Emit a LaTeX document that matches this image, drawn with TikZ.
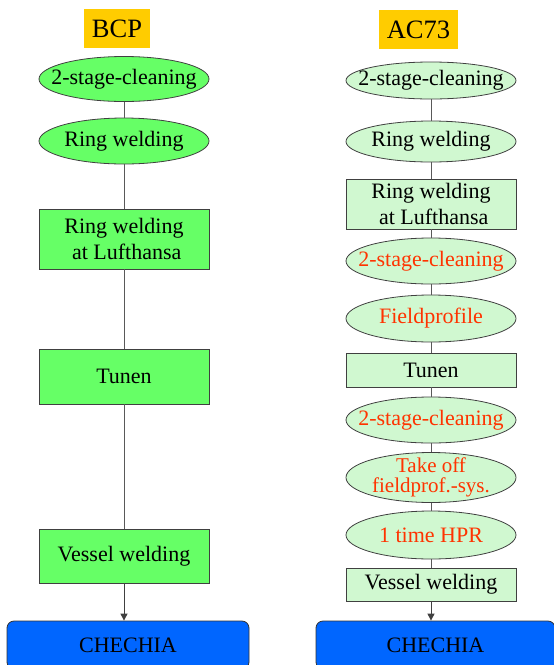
\documentclass[tikz,border=0pt]{standalone}
\usepackage{fontspec}
\setmainfont{Liberation Serif}
\usetikzlibrary{shapes.geometric,arrows.meta}
\definecolor{lgreen}{RGB}{102,255,102}
\definecolor{pgreen}{RGB}{208,248,208}
\definecolor{hdr}{RGB}{255,204,0}
\definecolor{cblue}{RGB}{0,102,255}
\definecolor{rtxt}{RGB}{255,51,0}
\tikzset{
  base/.style={inner sep=0pt, draw=black!75, line width=0.8pt, font=\fontsize{22}{26}\selectfont, align=center},
  hdrbox/.style={rectangle, fill=hdr, inner sep=0pt, font=\fontsize{26.5}{30}\selectfont},
  lell/.style={base, ellipse, fill=lgreen, minimum width=170pt},
  lbox/.style={base, rectangle, fill=lgreen, minimum width=170pt},
  rell/.style={base, ellipse, fill=pgreen, minimum width=170pt},
  rbox/.style={base, rectangle, fill=pgreen, minimum width=170pt},
  etext/.style={inner sep=0pt, font=\fontsize{22}{26}\selectfont, align=center},
  redt/.style={etext, text=rtxt},
  endbox/.style={base, rectangle, rounded corners=7pt, fill=cblue, draw=black!80},
  conn/.style={draw=black!65, line width=1pt},
  arr/.style={conn, -{Triangle[width=7pt,length=7pt]}, draw=black!75}
}
\begin{document}
\begin{tikzpicture}[x=1pt,y=-1pt]
\useasboundingbox (0,0) rectangle (554,665);
% headers
\node[hdrbox, minimum width=66pt, minimum height=39pt] (bcp) at (117,28.5) {BCP};
\node[hdrbox, minimum width=79pt, minimum height=39pt] (ac) at (418.5,29.5) {AC73};
% left column
\node[lell, minimum height=45pt] (l1) at (124,79) {};
\node[etext] (l1t) at (l1) {2-stage-cleaning};
\node[lell, minimum height=46pt] (l2) at (124,141) {};
\node[etext] (l2t) at (l2) {Ring welding};
\node[lbox, minimum height=60pt] (l3) at (124,239) {Ring welding\\ \ at Lufthansa};
\node[lbox, minimum height=55pt] (l4) at (124,376.5) {Tunen};
\node[lbox, minimum height=54pt] (l5) at (124,556) {Vessel welding};
\node[endbox, minimum width=242pt, minimum height=48pt] (l6) at (128,645) {CHECHIA};
% right column
\node[rell, minimum height=37pt] (r1) at (431,80.5) {};
\node[etext] (r1t) at (r1) {2-stage-cleaning};
\node[rell, minimum height=41pt] (r2) at (431,141.5) {};
\node[etext] (r2t) at (r2) {Ring welding};
\node[rbox, minimum height=50pt] (r3) at (431,204) {Ring welding\\ \ at Lufthansa};
\node[rell, minimum height=46pt] (r4) at (431,261) {};
\node[redt] (r4t) at (r4) {2-stage-cleaning};
\node[rell, minimum height=47pt] (r5) at (431,318.5) {};
\node[redt] (r5t) at (r5) {Fieldprofile};
\node[rbox, minimum height=34pt] (r6) at (431,370) {Tunen};
\node[rell, minimum height=46pt] (r7) at (431,420) {};
\node[redt] (r7t) at (r7) {2-stage-cleaning};
\node[rell, minimum height=50pt] (r8) at (431,477.5) {};
\node[redt, font=\fontsize{21}{20}\selectfont] (r8t) at (r8) {Take off\\fieldprof.-sys.};
\node[rell, minimum height=48pt] (r9) at (431,535) {};
\node[redt] (r9t) at (r9) {1 time HPR};
\node[rbox, minimum height=33pt] (r10) at (431,584.5) {Vessel welding};
\node[endbox, minimum width=239pt, minimum height=48pt] (r11) at (435.5,645) {CHECHIA};
% connectors
\draw[conn] (l1) -- (l2);
\draw[conn] (l2) -- (l3);
\draw[conn] (l3) -- (l4);
\draw[conn] (l4) -- (l5);
\draw[arr] (l5) -- (l5 |- l6.north);
\draw[conn] (r1) -- (r2);
\draw[conn] (r2) -- (r3);
\draw[conn] (r3) -- (r4);
\draw[conn] (r4) -- (r5);
\draw[conn] (r5) -- (r6);
\draw[conn] (r6) -- (r7);
\draw[conn] (r7) -- (r8);
\draw[conn] (r8) -- (r9);
\draw[conn] (r9) -- (r10);
\draw[arr] (r10) -- (r10 |- r11.north);
\end{tikzpicture}
\end{document}
